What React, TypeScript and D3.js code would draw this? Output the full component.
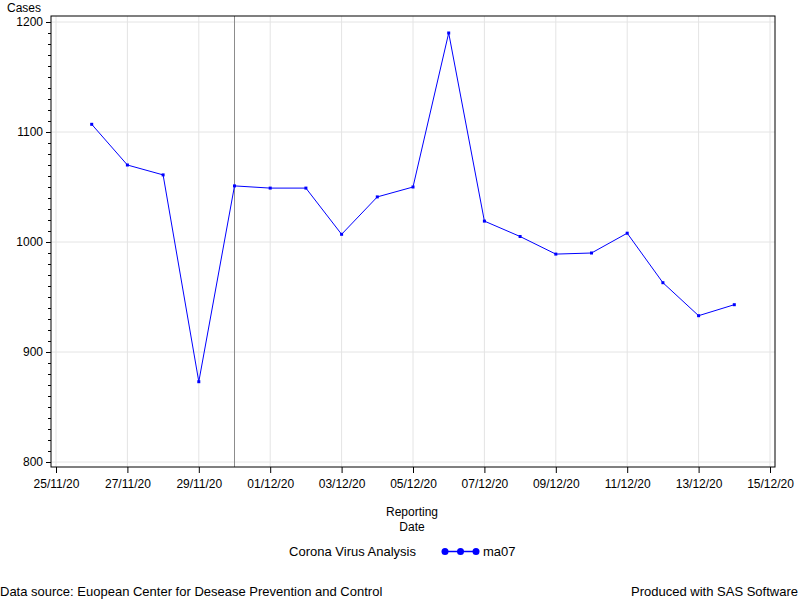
import React, { useEffect, useRef } from 'react';
import * as d3 from 'd3';

// reporting dates (dd/mm/yy) and 7-day moving average of cases
const dates = [
  '26/11/20', '27/11/20', '28/11/20', '29/11/20', '30/11/20', '01/12/20', '02/12/20',
  '03/12/20', '04/12/20', '05/12/20', '06/12/20', '07/12/20', '08/12/20', '09/12/20',
  '10/12/20', '11/12/20', '12/12/20', '13/12/20', '14/12/20',
];
const ma07 = [
  1107, 1070, 1061, 873, 1051, 1049, 1049,
  1007, 1041, 1050, 1190, 1019, 1005, 989,
  990, 1008, 963, 933, 943,
];
const xTickLabels = [
  '25/11/20', '27/11/20', '29/11/20', '01/12/20', '03/12/20', '05/12/20',
  '07/12/20', '09/12/20', '11/12/20', '13/12/20', '15/12/20',
];
const yTicks = [800, 900, 1000, 1100, 1200];
const refDate = '30/11/20';

const parse = d3.timeParse('%d/%m/%y');
const fmt = d3.timeFormat('%d/%m/%y');

const App = () => {
  const svgRef = useRef<SVGSVGElement>(null);

  useEffect(() => {
    if (!svgRef.current) return;
    const svg = d3.select(svgRef.current);
    svg.selectAll('*').remove();

    const font = 'Arial, "Liberation Sans", sans-serif';
    const left = 51, right = 775, top = 16, bottom = 467;

    const x = d3.scaleTime()
      .domain([parse('25/11/20')!, parse('15/12/20')!])
      .range([56, 770]);
    const y = d3.scaleLinear().domain([800, 1200]).range([462, 22]);

    const g = svg.append('g').attr('font-family', font);

    // grid
    const tickDates = xTickLabels.map(d => parse(d)!);
    g.append('g').selectAll('line').data(tickDates).enter().append('line')
      .attr('x1', d => x(d)).attr('x2', d => x(d))
      .attr('y1', top).attr('y2', bottom)
      .attr('stroke', '#e4e4e4');
    g.append('g').selectAll('line').data(yTicks).enter().append('line')
      .attr('x1', left).attr('x2', right)
      .attr('y1', d => y(d)).attr('y2', d => y(d))
      .attr('stroke', '#e4e4e4');

    // reference line
    g.append('line')
      .attr('x1', x(parse(refDate)!)).attr('x2', x(parse(refDate)!))
      .attr('y1', top).attr('y2', bottom)
      .attr('stroke', '#8c8c8c');

    // frame
    g.append('rect')
      .attr('x', left).attr('y', top)
      .attr('width', right - left).attr('height', bottom - top)
      .attr('fill', 'none').attr('stroke', 'black');

    // y axis
    const yAxis = g.append('g').attr('transform', `translate(${left},0)`)
      .call(d3.axisLeft(y).tickValues(yTicks).tickSize(5).tickPadding(3).tickFormat(d3.format('d')));
    yAxis.select('.domain').remove();
    yAxis.selectAll('text').attr('font-size', 12).attr('font-family', font).attr('fill', 'black');
    g.append('g').attr('transform', `translate(${left},0)`)
      .call(d3.axisLeft(y).tickValues(d3.range(800, 1201, 10).filter(v => v % 100 !== 0)).tickSize(3).tickFormat(() => ''))
      .select('.domain').remove();

    // x axis
    const xAxis = g.append('g').attr('transform', `translate(0,${bottom})`)
      .call(d3.axisBottom(x).tickValues(tickDates).tickSize(6).tickPadding(6).tickFormat(d => fmt(d as Date)));
    xAxis.select('.domain').remove();
    xAxis.selectAll('text').attr('font-size', 12).attr('font-family', font).attr('fill', 'black');

    // series
    const pts = dates.map((d, i) => ({ date: parse(d)!, v: ma07[i] }));
    g.append('path').datum(pts)
      .attr('fill', 'none').attr('stroke', '#0000ff').attr('stroke-width', 1)
      .attr('d', d3.line<{ date: Date; v: number }>().x(d => x(d.date)).y(d => y(d.v)));
    g.append('g').selectAll('rect').data(pts).enter().append('rect')
      .attr('x', d => x(d.date) - 1.5).attr('y', d => y(d.v) - 1.5)
      .attr('width', 3).attr('height', 3).attr('fill', '#0000ff');

    // labels
    const txt = (tx: number, ty: number, s: string, anchor = 'start', size = 12) =>
      g.append('text').attr('x', tx).attr('y', ty).attr('font-size', size)
        .attr('text-anchor', anchor).attr('fill', 'black').text(s);
    txt(7, 12, 'Cases');
    txt(412, 516, 'Reporting', 'middle');
    txt(412, 531, 'Date', 'middle');
    txt(416, 556, 'Corona Virus Analysis', 'end', 13);
    txt(483, 556, 'ma07', 'start', 13);
    txt(0, 596, 'Data source: Euopean Center for Desease Prevention and Control', 'start', 13);
    txt(798, 596, 'Produced with SAS Software', 'end', 13);

    // legend symbol
    g.append('line').attr('x1', 445).attr('x2', 476).attr('y1', 551.5).attr('y2', 551.5)
      .attr('stroke', '#0000ff').attr('stroke-width', 1.5);
    g.append('g').selectAll('circle').data([445, 460.5, 476]).enter().append('circle')
      .attr('cx', d => d).attr('cy', 551.5).attr('r', 3.5).attr('fill', '#0000ff');
  }, []);

  return (
    <svg ref={svgRef} width={800} height={600}
      style={{ position: 'absolute', left: 0, top: 0, background: 'white' }} />
  );
};

export default App;
